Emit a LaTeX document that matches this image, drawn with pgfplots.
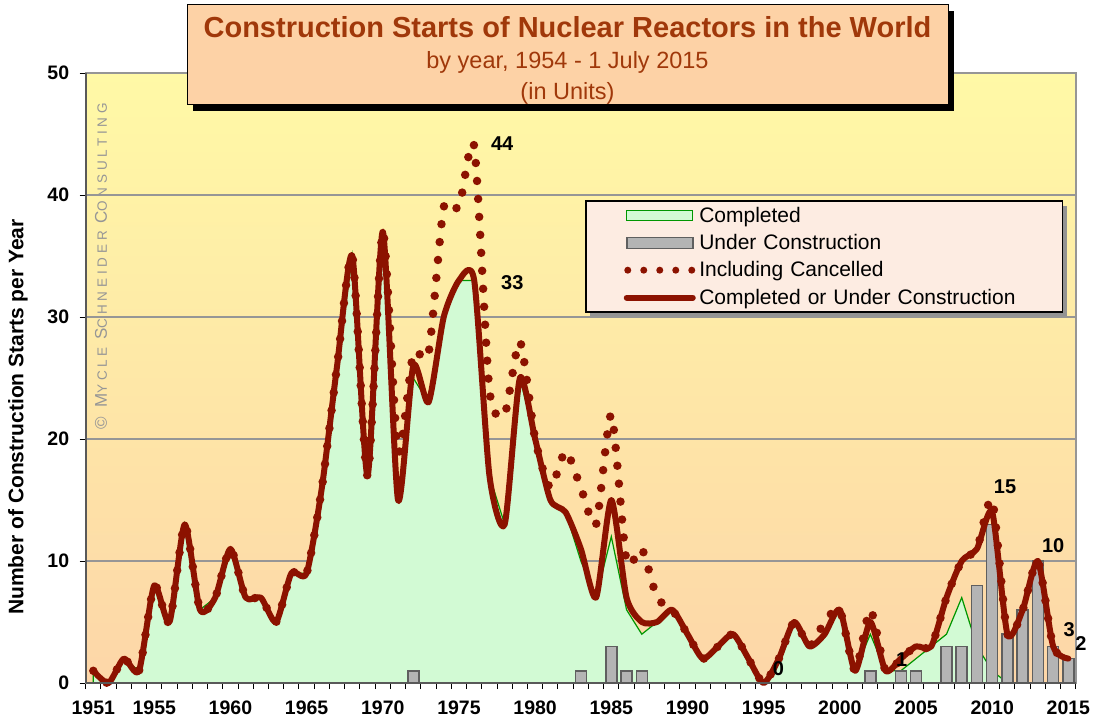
\documentclass[border=0pt]{standalone}
\usepackage{pgfplots}
\pgfplotsset{compat=1.18}
\usepackage{pgfplotstable}
\usepackage{fontspec}
\setmainfont{Liberation Sans}
\usetikzlibrary{shadows}

\definecolor{dred}{RGB}{140,18,0}
\definecolor{mint}{RGB}{210,250,212}
\definecolor{cgreen}{RGB}{0,150,0}
\definecolor{barfill}{RGB}{180,180,180}
\definecolor{bardraw}{RGB}{95,95,95}
\definecolor{gridgray}{RGB}{150,150,150}
\definecolor{bgtop}{RGB}{255,249,166}
\definecolor{bgbot}{RGB}{253,214,168}
\definecolor{legfill}{RGB}{253,236,226}
\definecolor{titlefill}{RGB}{253,210,166}
\definecolor{titletext}{RGB}{160,56,10}
\definecolor{wmark}{RGB}{150,150,150}

\pgfplotstableread{
year total completed cancel
1951 1 1 1
1952 0 0 0
1953 2 2 2
1954 1 1 1
1955 8 8 8
1956 5 5 5
1957 13 13 13
1958 6 6 6
1959 7 7 7
1960 11 11 11
1961 7 7 7
1962 7 7 7
1963 5 5 5
1964 9 9 9
1965 9 9 9
1966 16 16 16
1967 26 26 26
1968 35 35 35
1969 17 17 17
1970 37 37 37
1971 15 15 19
1972 26 25 27
1973 23 23 27
1974 30 30 39
1975 33 33 39
1976 33 33 44
1977 17 17 24
1978 13 13 22
1979 25 25 28
1980 20 20 20
1981 15 15 16
1982 14 14 19
1983 11 10 16
1984 7 7 13
1985 15 12 22
1986 7 6 10
1987 5 4 11
1988 5 5 7
1989 6 6 6
1990 4 4 4
1991 2 2 2
1992 3 3 3
1993 4 4 4
1994 2 2 2
1995 0 0 0
1996 2 2 2
1997 5 5 5
1998 3 3 3
1999 4 4 5
2000 6 6 6
2001 1 1 1
2002 5 4 6
2003 1 1 1
2004 2 1 2
2005 3 2 3
2006 3 3 3
2007 7 4 7
2008 10 7 10
2009 11 3 11
2010 14 1 15
2011 4 0 4
2012 6 0 6
2013 10 0 10
2014 3 0 3
2015 2 0 2
}\datatable

\begin{document}
\begin{tikzpicture}[x=1pt,y=1pt]
\useasboundingbox (0,0) rectangle (1095,724);
\begin{axis}[
  at={(85.7pt,41pt)}, anchor=south west,
  width=990.3pt, height=610pt, scale only axis,
  xmin=1950.5, xmax=2015.5, ymin=0, ymax=50,
  clip=false,
  axis background/.style={shade, top color=bgtop, bottom color=bgbot},
  axis line style={draw=gridgray, line width=1.5pt},
  ymajorgrids, major grid style={draw=gridgray, line width=1.5pt},
  ytick={0,10,20,30,40,50},
  xtick={1951,1955,1960,1965,1970,1975,1980,1985,1990,1995,2000,2005,2010,2015},
  minor xtick={1950.5,1951.5,...,2015.5},
  major x tick style={draw=none},
  tick align=outside,
  major tick length=6pt, minor tick length=6pt,
  tick style={draw=black, line width=1pt},
  xtick pos=bottom, ytick pos=left,
  /pgf/number format/assume math mode=true,
  /pgf/number format/1000 sep={},
  tick label style={font=\bfseries\fontsize{19.5}{19.5}\selectfont},
  xticklabel style={yshift=-8pt},
  yticklabel style={xshift=-7pt},
  legend style={at={(0.5042,0.7915)}, anchor=north west, fill=legfill, draw=black,
    line width=1.5pt, font=\fontsize{21}{21}\selectfont,
    inner xsep=38pt, inner ysep=3.2pt, row sep=4.9pt, column sep=0pt,
    nodes={inner sep=3pt},
    /tikz/every even column/.append style={text width=322pt, text height=15pt, text depth=5pt, align=left}},
  legend cell align=left,
]
\fill[gray!85] (axis description cs:0.5092,0.6016) rectangle (axis description cs:0.9909,0.7820);
\addplot[fill=mint, draw=cgreen, line width=1.2pt,
  legend image code/.code={\draw[fill=mint,draw=cgreen,line width=1.2pt] (0pt,-5pt) rectangle (66pt,5pt);}]
  table[x=year,y=completed]{\datatable} \closedcycle;
\addlegendentry{Completed}
\addplot[ybar, bar width=11pt, fill=barfill, draw=bardraw, line width=1.5pt,
  legend image code/.code={\draw[fill=barfill,draw=bardraw,line width=1.5pt] (0pt,-5.5pt) rectangle (66pt,5.5pt);}]
  coordinates {(1972,1) (1983,1) (1985,3) (1986,1) (1987,1) (2002,1) (2004,1) (2005,1)
   (2007,3) (2008,3) (2009,8) (2010,13) (2011,4) (2012,6) (2013,10) (2014,3) (2015,2)};
\addlegendentry{Under Construction}
\addplot[smooth, tension=0.4, draw=dred, line width=8.5pt, line cap=round, dash pattern=on 0pt off 18pt,
  legend image code/.code={\draw[dred,line width=7pt,line cap=round,dash pattern=on 0pt off 16pt] (1pt,0pt) -- (66pt,0pt);}]
  table[x=year,y=cancel]{\datatable};
\addlegendentry{Including Cancelled}
\addplot[smooth, tension=0.4, draw=dred, line width=6pt, line join=round, line cap=round,
  legend image code/.code={\draw[dred,line width=6pt,line cap=round] (0pt,0pt) -- (66pt,0pt);}]
  table[x=year,y=total]{\datatable};
\addlegendentry{Completed or Under Construction}
\draw[draw=black!65, line width=2pt] (rel axis cs:0,0) -- (rel axis cs:0,1);
\draw[draw=black!65, line width=1.5pt] (rel axis cs:0,0) -- (rel axis cs:1,0);
\begin{scope}[font=\bfseries\fontsize{20}{20}\selectfont]
\node at (axis cs:1977.84,44.2) {44};
\node at (axis cs:1978.5,32.8) {33};
\node at (axis cs:1995.97,1.2) {0};
\node at (axis cs:2004.06,1.9) {1};
\node at (axis cs:2010.84,16.1) {15};
\node at (axis cs:2014.0,11.3) {10};
\node at (axis cs:2015.05,4.4) {3};
\node at (axis cs:2015.83,3.25) {2};
\end{scope}
\end{axis}
\node[draw=black, line width=1pt, fill=titlefill, minimum width=761pt, minimum height=100pt,
  inner sep=0pt, drop shadow={shadow xshift=6pt, shadow yshift=-6pt, fill=black, opacity=1}]
  at (567.5,669) {};
\node[align=center, text=titletext, inner sep=0pt, font=\fontsize{23.5}{31}\selectfont]
  at (567.5,664) {{\bfseries\fontsize{29}{31}\selectfont Construction Starts of Nuclear Reactors in the World}\\
  by year, 1954 - 1 July 2015\\
  (in Units)};
\node[rotate=90, font=\bfseries\fontsize{21}{21}\selectfont] at (18,307) {Number of Construction Starts per Year};
\node[rotate=90, text=wmark, anchor=west, inner sep=0pt] at (101,294)
  {\addfontfeature{LetterSpace=28}{\fontsize{17}{17}\selectfont \textcopyright{} M}{\fontsize{13.5}{13.5}\selectfont YCLE }{\fontsize{17}{17}\selectfont S}{\fontsize{13.5}{13.5}\selectfont CHNEIDER }{\fontsize{17}{17}\selectfont C}{\fontsize{13.5}{13.5}\selectfont ONSULTING}};
\end{tikzpicture}
\end{document}
